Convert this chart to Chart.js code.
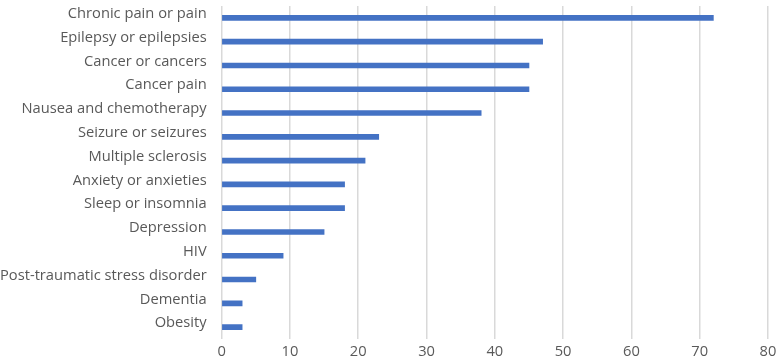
<!DOCTYPE html>
<html>
<head>
<meta charset="utf-8">
<script src="https://cdn.jsdelivr.net/npm/chart.js@4"></script>
<style>
  html, body { margin: 0; padding: 0; background: #fff; }
  #wrap { width: 780px; height: 363px; }
</style>
</head>
<body>
<div id="wrap"><canvas id="chart"></canvas></div>
<script>
let conditions = [
  'Chronic pain or pain', 'Epilepsy or epilepsies', 'Cancer or cancers', 'Cancer pain',
  'Nausea and chemotherapy', 'Seizure or seizures', 'Multiple sclerosis', 'Anxiety or anxieties',
  'Sleep or insomnia', 'Depression', 'HIV', 'Post-traumatic stress disorder', 'Dementia', 'Obesity'
];
let counts = [72, 47, 45, 45, 38, 23, 21, 18, 18, 15, 9, 5, 3, 3];

let ctx = document.getElementById('chart');

// chart.js reserves room for the edge tick labels (and pads both sides), we don't want that here
function fitY(scale) {
  scale.paddingTop = 0;
  scale.paddingBottom = 0;
  scale.width -= scale.options.ticks.padding;
}
function fitX(scale) {
  scale.paddingLeft = 0;
  scale.paddingRight = 0;
  scale.height = 24;
}

let chart = new Chart(ctx, {
  type: 'bar',
  data: {
    labels: conditions,
    datasets: [{
      data: counts,
      backgroundColor: '#4472c4',
      barThickness: 5
    }]
  },
  options: {
    indexAxis: 'y',
    responsive: true,
    maintainAspectRatio: false,
    animation: false,
    layout: { padding: { top: 6, right: 12, bottom: 0, left: 0 } },
    plugins: { legend: { display: false }, tooltip: { enabled: false } },
    scales: {
      x: {
        min: 0,
        max: 80,
        afterFit: fitX,
        ticks: {
          stepSize: 10,
          color: '#595959',
          font: { family: 'Open Sans', size: 14.7 },
          padding: 4
        },
        grid: { color: '#d9d9d9', lineWidth: 1.5, drawTicks: false },
        border: { display: false }
      },
      y: {
        afterFit: fitY,
        ticks: {
          color: '#595959',
          font: { family: 'Open Sans', size: 14.7 },
          padding: 15,
          labelOffset: -4,
          autoSkip: false
        },
        grid: { display: false, drawTicks: false },
        border: { display: false }
      }
    }
  }
});
</script>
</body>
</html>
